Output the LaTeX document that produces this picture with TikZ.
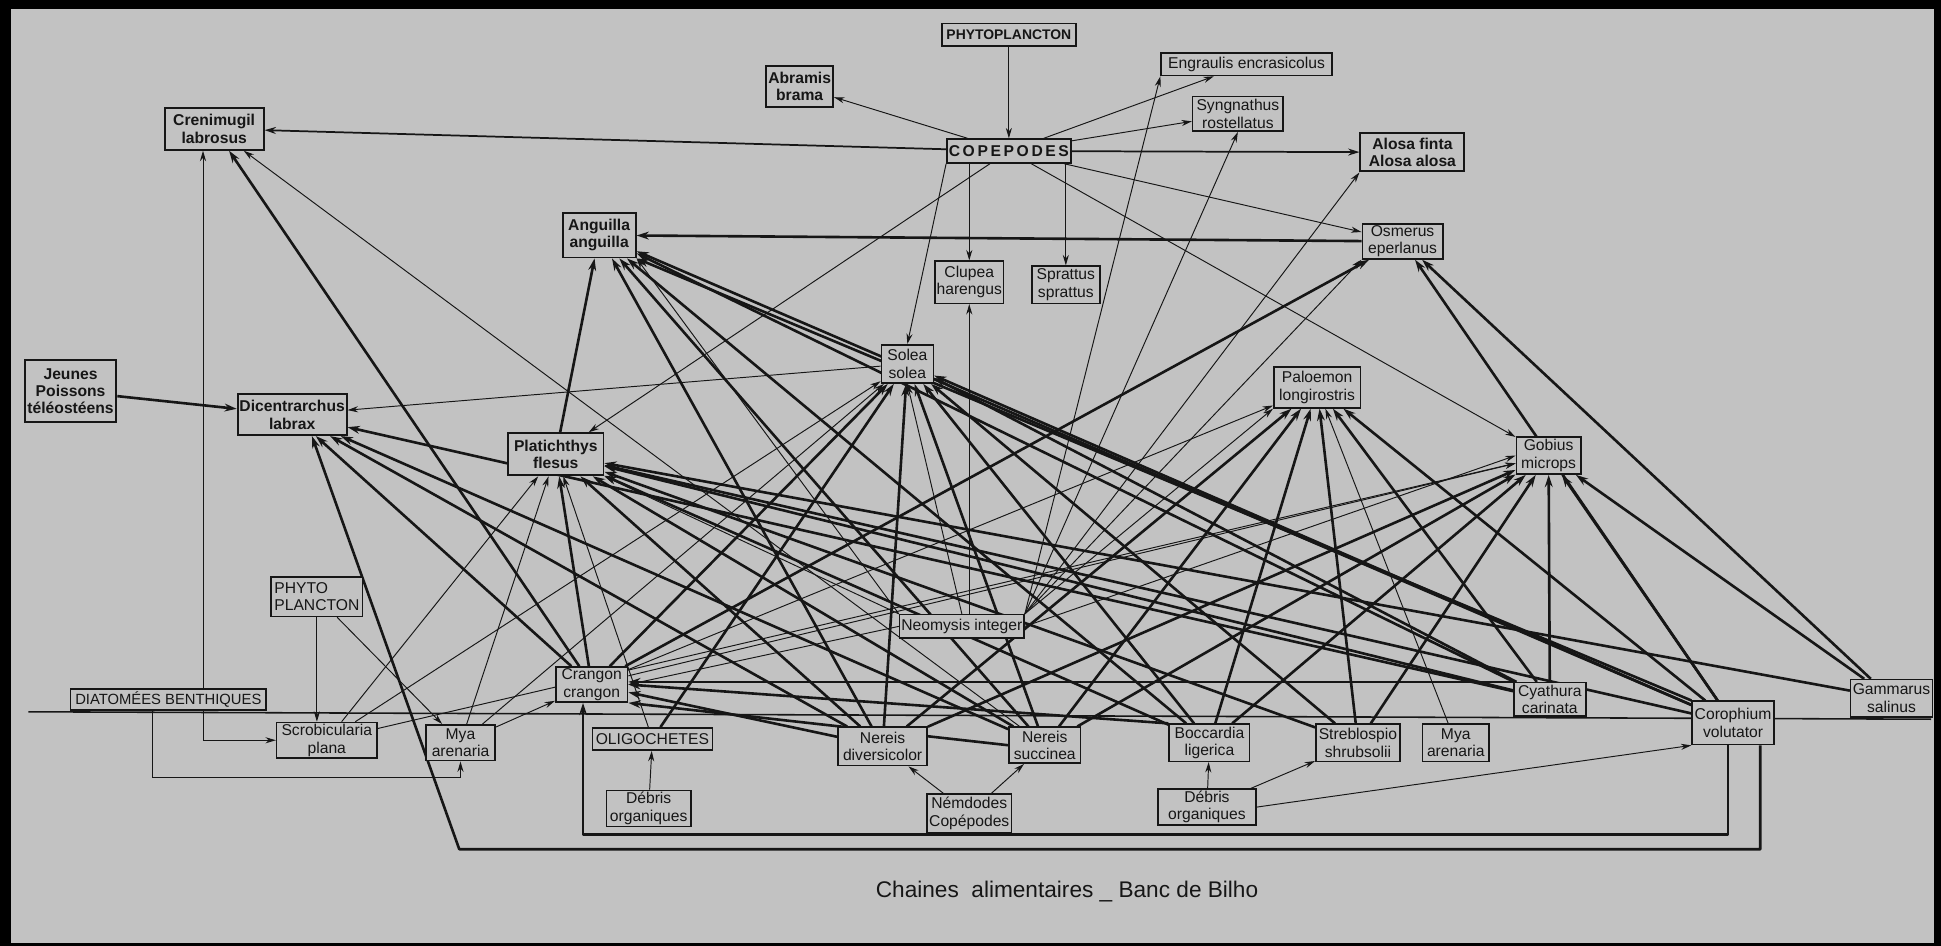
\documentclass[tikz,border=0pt]{standalone}
\usepackage{fontspec}
\setmainfont{Liberation Sans}
\usetikzlibrary{arrows.meta,calc}
\pgfdeclarelayer{back}
\pgfdeclarelayer{edges}
\pgfsetlayers{back,edges,main}
\definecolor{paper}{RGB}{194,194,194}
\definecolor{ink}{RGB}{22,22,22}
\tikzset{
 box/.style={draw=ink, line width=0.9pt, fill=paper, inner sep=1pt, align=center, font=\fontsize{9}{10}\selectfont, text=ink},
 bbox/.style={box, line width=1.1pt, font=\fontsize{9}{10}\selectfont\bfseries},
 thk/.style={draw=ink, line width=1.5pt, line join=round, -{Stealth[length=7pt,width=4.5pt]}},
 md/.style={draw=ink, line width=1pt, -{Stealth[length=6.5pt,width=4pt]}},
 thn/.style={draw=ink, line width=0.55pt, -{Stealth[length=6pt,width=3.5pt]}},
}
\newcommand{\mynode}[6]{\node[box, minimum width={#4*0.025cm}, minimum height={#5*0.025cm}] (#1) at (#2,#3) {#6};}
\newcommand{\mybnode}[6]{\node[bbox, minimum width={#4*0.025cm}, minimum height={#5*0.025cm}] (#1) at (#2,#3) {#6};}
\begin{document}
\begin{tikzpicture}[x=0.025cm, y=-0.025cm]
\begin{pgfonlayer}{back}
\fill[black] (0,0) rectangle (1568,764);
\fill[paper] (9,7) rectangle (1562,762);
\end{pgfonlayer}
\useasboundingbox (0,0) rectangle (1568,764);

\mybnode{phy}{815}{28}{108}{18}{\fontsize{8}{10}\selectfont PHYTOPLANCTON}
\mybnode{abr}{646}{70}{54}{33}{Abramis\\brama}
\mynode{eng}{1007}{52}{138}{18}{Engraulis encrasicolus}
\mynode{syn}{1000}{92}{73}{28}{Syngnathus\\rostellatus}
\mybnode{cren}{173}{104}{80}{34}{Crenimugil\\labrosus}
\mybnode{cop}{815}{122}{97}{19}{C\,O\,P\,E\,P\,O\,D\,E\,S}
\mybnode{alo}{1141}{123}{84}{31}{Alosa finta\\Alosa alosa}
\mybnode{ang}{484}{190}{59}{36}{Anguilla\\anguilla}
\mynode{osm}{1133}{195}{65}{26}{Osmerus\\eperlanus}
\mynode{clu}{783}{228}{53}{34}{Clupea\\harengus}
\mynode{spr}{861}{230}{55}{30}{Sprattus\\sprattus}
\mynode{sol}{733}{294}{42}{31}{Solea\\solea}
\mynode{pal}{1064}{313}{70}{33}{Paloemon\\longirostris}
\mybnode{jeu}{57}{316}{74}{50}{Jeunes\\Poissons\\téléostéens}
\mybnode{dic}{236}{335}{88}{33}{Dicentrarchus\\labrax}
\mybnode{pla}{449}{367}{77}{34}{Platichthys\\flesus}
\mynode{gob}{1251}{368}{52}{30}{Gobius\\microps}
\node[box, align=left, minimum width={74*0.025cm}, minimum height={32*0.025cm}] (phy2) at (256,482) {PHYTO\\PLANCTON};
\mynode{neo}{777}{506}{99}{19}{Neomysis integer}
\mynode{cra}{478}{553}{58}{25}{Crangon\\crangon}
\mynode{dia}{136}{565}{158}{17}{\fontsize{8.5}{10}\selectfont DIATOMÉES BENTHIQUES}
\mynode{cya}{1252}{565}{58}{27}{Cyathura\\carinata}
\mynode{gam}{1528}{564}{66}{30}{Gammarus\\salinus}
\mynode{scr}{264}{598}{81}{22}{Scrobicularia\\plana}
\mynode{myaL}{372}{600}{56}{29}{Mya\\arenaria}
\mynode{oli}{527}{597}{97}{18}{OLIGOCHETES}
\mynode{nerd}{713}{603}{72}{31}{Nereis\\diversicolor}
\mynode{ners}{844}{602}{58}{29}{Nereis\\succinea}
\mynode{boc}{977}{600}{65}{30}{Boccardia\\ligerica}
\mynode{str}{1097}{600}{68}{30}{Streblospio\\shrubsolii}
\mynode{myaR}{1176}{600}{54}{30}{Mya\\arenaria}
\mynode{cor}{1400}{584}{66}{35}{Corophium\\volutator}
\mynode{deb1}{524}{653}{68}{29}{Débris\\organiques}
\mynode{nem}{783}{657}{68}{31}{Némdodes\\Copépodes}
\mynode{deb2}{975}{652}{79}{29}{Débris\\organiques}
\node[font=\fontsize{13}{15}\selectfont, text=ink] (title) at (862,720) {Chaines\ \ alimentaires \_ Banc de Bilho};

\begin{pgfonlayer}{edges}
\draw[ink, line width=0.9pt] (23,575) -- (1560,581);
% pelagic
\draw[thn] (phy) -- (cop);
\draw[thn] (cop) -- (abr);
\draw[thn] (cop) -- (eng);
\draw[thn] (cop) -- (syn);
\draw[md] (cop) -- (cren);
\draw[md] (cop) -- (alo);
\draw[thn] (cop) -- (osm);
\draw[thn] (cop) -- (gob);
\draw[thn] (cop.south -| clu.north) -- (clu.north);
\draw[thn] (cop.south -| spr.north) -- (spr.north);
\draw[thn] (cop.south west) -- (sol.north);
\draw[thn] (cop) -- (pla);
% neomysis
\draw[thn] (neo.north east) -- (eng.south west);
\draw[thn] (neo.north east) -- (syn.south);
\draw[thn] (neo.north east) -- (alo.south west);
\draw[thn] (neo.north east) -- (osm.south west);
\draw[thn] (clu.south |- neo.north) -- (clu.south);
\draw[thn] (neo.north) -- (sol.south);
\draw[thn] (neo.east) -- (gob.west);
\draw[thn] (neo.west) -- (cra.east);
\draw[thn] (neo.north west) -- (pla.south east);
\draw[thn] (neo.north west) -- (ang.south east);
\draw[thn] (neo.north east) -- (pal.south west);
% crangon
\draw[thk] (cra) -- (cren);
\draw[thk] (cra) -- (dic);
\draw[thk] (cra) -- (pla);
\draw[thk] (cra) -- (sol);
\draw[thk] (cra) -- (osm);
\draw[thn] (cra) -- (gob);
\draw[thn] (cra) -- (pal);
% nereis diversicolor
\draw[thk] (nerd) -- (ang);
\draw[thk] (nerd) -- (dic);
\draw[thk] (nerd) -- (pla);
\draw[thk] (nerd) -- (sol);
\draw[thk] (nerd) -- (cra);
\draw[thk] (nerd) -- (pal);
\draw[thk] (nerd) -- (gob);
% nereis succinea
\draw[thn] (ners) -- (cren);
\draw[thk] (ners) -- (dic);
\draw[thk] (ners) -- (pla);
\draw[thk] (ners) -- (sol);
\draw[thk] (ners) -- (ang);
\draw[thk] (ners) -- (pal);
\draw[thk] (ners) -- (gob);
\draw[thk] (ners.west) -- (cra.south east);
% boccardia
\draw[thk] (boc) -- (sol);
\draw[thk] (boc) -- (pla);
\draw[thk] (boc) -- (ang);
\draw[thk] (boc) -- (pal);
\draw[thk] (boc) -- (gob);
\draw[thk] (boc.north west) -- (cra.east);
% streblospio, mya
\draw[thk] (str) -- (sol);
\draw[thk] (str) -- (pla);
\draw[thk] (str) -- (pal);
\draw[thk] (str) -- (gob);
\draw[thn] (myaR) -- (pal);
% cyathura
\draw[thk] (cya.north west) -- (cra.east |- cya.north west);
\draw[thk] (cya) -- (ang);
\draw[thk] (cya) -- (sol);
\draw[thk] (cya) -- (pla);
\draw[thk] (cya) -- (gob);
\draw[thk] (cya) -- (pal);
\draw[thk] (cya) -- (dic);
% corophium
\draw[thk] (cor) -- (ang);
\draw[thk] (cor.north west) -- (ang.south east);
\draw[thk] (cor) -- (sol);
\draw[thk] (cor) -- (osm);
\draw[thk] (cor) -- (gob);
\draw[thk] (cor) -- (pal);
\draw[thk] (cor) -- (pla);
% gammarus
\draw[thk] (gam) -- (osm);
\draw[thk] (gam) -- (gob);
\draw[thk] (gam) -- (pla);
% scrobicularia, mya arenaria
\draw[thn] (scr) -- (pla);
\draw[thn] (scr) -- (sol);
\draw[thn] (scr) -- (gob);
\draw[thn] (myaL) -- (pla);
\draw[thn] (myaL) -- (cra);
\draw[thn] (myaL) -- (sol);
\draw[thn] (phy2) -- (phy2.south |- scr.north);
\draw[thn] (phy2) -- (myaL);
% oligochetes, debris
\draw[thn] (oli) -- (pla);
\draw[thk] (oli) -- (sol);
\draw[thn] (deb1) -- (oli);
\draw[thn] (nem) -- (nerd);
\draw[thn] (nem) -- (ners);
\draw[thn] (deb2) -- (boc);
\draw[thn] (deb2) -- (str);
\draw[thn] (deb2.east) -- (cor.south west);
% fish
\draw[thk] (jeu) -- (dic);
\draw[thk] (osm) -- (ang);
\draw[thk] (pla) -- (ang);
\draw[thn] (sol) -- (dic);
% diatomees
\coordinate (dx) at (164,0);
\draw[thn] (dia.north -| dx) -- (cren.south -| dx);
\draw[thn] (dia.south -| dx) |- (scr.west);
\coordinate (d2) at (123,628);
\draw[thn] (dia.south -| d2) -- (d2) -| (myaL.south);
% loops from corophium
\coordinate (i1) at (1396,674);
\coordinate (i2) at (471,674);
\draw[thk] (cor.south -| i1) -- (i1) -- (i2) -- (cra.south -| i2);
\coordinate (o1) at (1422,686);
\coordinate (o2) at (371,686);
\coordinate (o3) at (252,0);
\draw[thk] (cor.south -| o1) -- (o1) -- (o2) -- (dic.south -| o3);
\end{pgfonlayer}
\end{tikzpicture}
\end{document}
